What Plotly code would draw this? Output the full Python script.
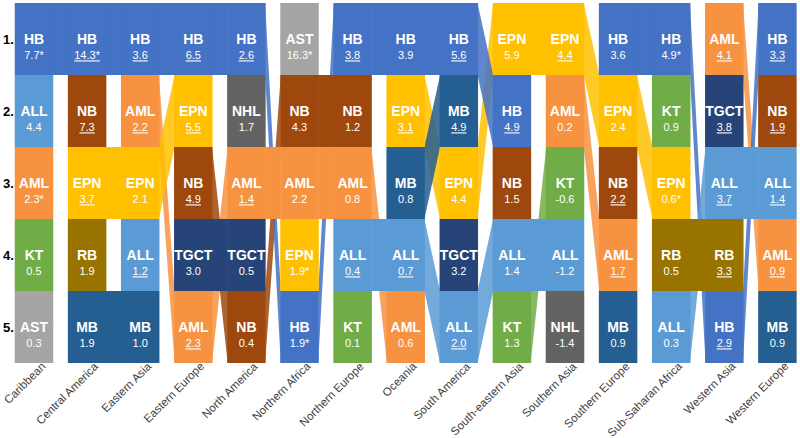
import plotly.graph_objects as go

regions = ["Caribbean", "Central America", "Eastern Asia", "Eastern Europe", "North America",
           "Northern Africa", "Northern Europe", "Oceania", "South America", "South-eastern Asia",
           "Southern Asia", "Southern Europe", "Sub-Saharan Africa", "Western Asia", "Western Europe"]

rank1_types = ["HB", "HB", "HB", "HB", "HB", "AST", "HB", "HB", "HB", "EPN", "EPN", "HB", "HB", "AML", "HB"]
rank1_values = [7.7, 14.3, 3.6, 6.5, 2.6, 16.3, 3.8, 3.9, 5.6, 5.9, 4.4, 3.6, 4.9, 4.1, 3.3]
rank1_star = [1, 1, 0, 0, 0, 1, 0, 0, 0, 0, 0, 0, 1, 0, 0]
rank1_under = [0, 1, 1, 1, 1, 0, 1, 0, 1, 0, 1, 0, 0, 1, 1]

rank2_types = ["ALL", "NB", "AML", "EPN", "NHL", "NB", "NB", "EPN", "MB", "HB", "AML", "EPN", "KT", "TGCT", "NB"]
rank2_values = [4.4, 7.3, 2.2, 5.5, 1.7, 4.3, 1.2, 3.1, 4.9, 4.9, 0.2, 2.4, 0.9, 3.8, 1.9]
rank2_star = [0] * 15
rank2_under = [0, 1, 1, 1, 0, 0, 0, 1, 1, 1, 0, 0, 0, 1, 1]

rank3_types = ["AML", "EPN", "EPN", "NB", "AML", "AML", "AML", "MB", "EPN", "NB", "KT", "NB", "EPN", "ALL", "ALL"]
rank3_values = [2.3, 3.7, 2.1, 4.9, 1.4, 2.2, 0.8, 0.8, 4.4, 1.5, -0.6, 2.2, 0.6, 3.7, 1.4]
rank3_star = [1, 0, 0, 0, 0, 0, 0, 0, 0, 0, 0, 0, 1, 0, 0]
rank3_under = [0, 1, 0, 1, 1, 0, 0, 0, 0, 0, 0, 1, 0, 1, 1]

rank4_types = ["KT", "RB", "ALL", "TGCT", "TGCT", "EPN", "ALL", "ALL", "TGCT", "ALL", "ALL", "AML", "RB", "RB", "AML"]
rank4_values = [0.5, 1.9, 1.2, 3.0, 0.5, 1.9, 0.4, 0.7, 3.2, 1.4, -1.2, 1.7, 0.5, 3.3, 0.9]
rank4_star = [0, 0, 0, 0, 0, 1, 0, 0, 0, 0, 0, 0, 0, 0, 0]
rank4_under = [0, 0, 1, 0, 0, 0, 1, 1, 0, 0, 0, 1, 0, 1, 1]

rank5_types = ["AST", "MB", "MB", "AML", "NB", "HB", "KT", "AML", "ALL", "KT", "NHL", "MB", "ALL", "HB", "MB"]
rank5_values = [0.3, 1.9, 1.0, 2.3, 0.4, 1.9, 0.1, 0.6, 2.0, 1.3, -1.4, 0.9, 0.3, 2.9, 0.9]
rank5_star = [0, 0, 0, 0, 0, 1, 0, 0, 0, 0, 0, 0, 0, 0, 0]
rank5_under = [0, 0, 0, 1, 0, 0, 0, 0, 1, 0, 0, 0, 0, 1, 0]

rank_labels = ["1.", "2.", "3.", "4.", "5."]

colors = {
    "HB": "#4472C4", "ALL": "#5B9BD5", "AML": "#F79241", "NB": "#9E480E",
    "EPN": "#FFC000", "NHL": "#636363", "AST": "#A5A5A5", "KT": "#70AD47",
    "RB": "#997300", "MB": "#255E91", "TGCT": "#264478",
}

types = [rank1_types, rank2_types, rank3_types, rank4_types, rank5_types]
values = [rank1_values, rank2_values, rank3_values, rank4_values, rank5_values]
stars = [rank1_star, rank2_star, rank3_star, rank4_star, rank5_star]
unders = [rank1_under, rank2_under, rank3_under, rank4_under, rank5_under]

n = len(regions)
hw = 0.3625  # half block width in column units
eps = 0.01
PLOT_TOP, PLOT_H = 3, 363

# rank of each type per column
rank_of = []
for c in range(n):
    d = {}
    for r in range(5):
        d[types[r][c]] = r + 1
    rank_of.append(d)

fig = go.Figure()


def poly_trace(polys, color, opacity=1.0):
    xs, ys = [], []
    for p in polys:
        for (x, y) in p:
            xs.append(x)
            ys.append(y)
        xs.append(p[0][0]); ys.append(p[0][1])
        xs.append(None); ys.append(None)
    return go.Scatter(x=xs, y=ys, mode="lines", fill="toself", fillcolor=color,
                      line=dict(width=0, color=color), opacity=opacity,
                      hoverinfo="skip", showlegend=False)


# connectors
slants = {}
straights = {}
for c in range(n - 1):
    for t, r1 in rank_of[c].items():
        if t in rank_of[c + 1]:
            r2 = rank_of[c + 1][t]
            xa = c + hw - eps
            xb = c + 1 - hw + eps
            p = [(xa, r1 - 0.5), (xb, r2 - 0.5), (xb, r2 + 0.5), (xa, r1 + 0.5)]
            if r1 == r2:
                straights.setdefault(t, []).append(p)
            else:
                slants.setdefault(t, []).append(p)

for t, ps in slants.items():
    fig.add_trace(poly_trace(ps, colors[t], 0.85))
for t, ps in straights.items():
    fig.add_trace(poly_trace(ps, colors[t], 1.0))

# blocks
blocks = {}
for c in range(n):
    for r in range(5):
        t = types[r][c]
        y = r + 1
        blocks.setdefault(t, []).append([(c - hw, y - 0.5), (c + hw, y - 0.5), (c + hw, y + 0.5), (c - hw, y + 0.5)])
for t, ps in blocks.items():
    fig.add_trace(poly_trace(ps, colors[t], 1.0))

# texts
nx, ny, nt, vx, vy, vt = [], [], [], [], [], []
for c in range(n):
    for r in range(5):
        nx.append(c); ny.append(r + 1 + 0.015); nt.append(types[r][c])
        s = "%.1f" % values[r][c]
        if stars[r][c]:
            s += "*"
        if unders[r][c]:
            s = "<u>" + s + "</u>"
        vx.append(c); vy.append(r + 1 + 0.245); vt.append(s)

fig.add_trace(go.Scatter(x=nx, y=ny, text=nt, mode="text", textposition="middle center",
                         textfont=dict(family="Liberation Sans, Arial", size=14, color="white", weight="bold"),
                         hoverinfo="skip", showlegend=False))
fig.add_trace(go.Scatter(x=vx, y=vy, text=vt, mode="text", textposition="middle center",
                         textfont=dict(family="Liberation Sans, Arial", size=11, color="white"),
                         hoverinfo="skip", showlegend=False))

for r in range(5):
    fig.add_annotation(x=1 / 800, y=1 - (r + 0.5) * 72 / PLOT_H, text="<b>" + rank_labels[r] + "</b>",
                       showarrow=False, xanchor="left", yanchor="middle", xref="paper", yref="paper",
                       font=dict(family="Liberation Sans, Arial", size=13, color="black"))

# category labels, rotated
label_top_px = 357
for c in range(n):
    fig.add_annotation(x=c + 0.31, y=(PLOT_TOP + PLOT_H - label_top_px) / PLOT_H, xref="x", yref="paper",
                       text=regions[c], textangle=-45, showarrow=False,
                       xanchor="right", yanchor="top",
                       font=dict(family="Liberation Sans, Arial", size=11.5, color="#404040"))

fig.update_layout(
    width=800, height=438,
    margin=dict(l=0, r=0, t=PLOT_TOP, b=438 - PLOT_TOP - PLOT_H),
    plot_bgcolor="white", paper_bgcolor="white",
    xaxis=dict(range=[-34 / 53.1, (800 - 34) / 53.1], showticklabels=False, showgrid=False,
               zeroline=False, showline=False, ticks="", automargin=False),
    yaxis=dict(range=[0.5 + PLOT_H / 72, 0.5], showgrid=False, zeroline=False, showticklabels=False,
               showline=False, automargin=False),
)

fig.write_html("out.html", config={"displayModeBar": False},
               post_script="document.body.style.margin='0';document.body.style.overflow='hidden';")
